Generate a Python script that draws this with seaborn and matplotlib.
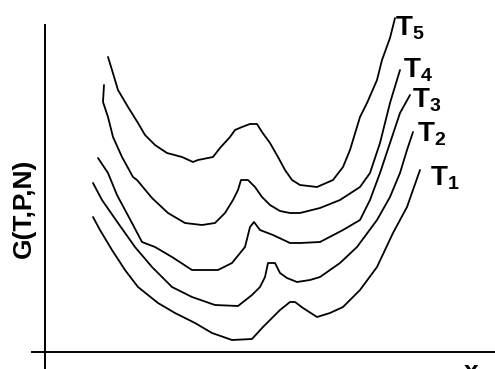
import numpy as np
import pandas as pd
import matplotlib
matplotlib.use("Agg")
import matplotlib.pyplot as plt
import seaborn as sns

sns.set_style("white")
plt.rcParams['font.family'] = ['Liberation Sans', 'DejaVu Sans']
plt.rcParams['mathtext.fontset'] = 'custom'
plt.rcParams['mathtext.rm'] = 'Liberation Sans:bold'
plt.rcParams['mathtext.bf'] = 'Liberation Sans:bold'
plt.rcParams['mathtext.it'] = 'Liberation Sans:bold'

# composition (x) and Gibbs energy G for five temperatures (arbitrary units)
x_T5 = [63, 67, 73, 83, 93, 100, 110, 122, 137, 148, 153, 168, 175, 185, 190, 197, 205, 212,
        217, 225, 233, 240, 247, 255, 272, 288, 298, 305, 315, 322, 332, 337, 345, 350]
G_T5 = [295, 282, 262, 245, 229, 217, 207, 199, 195, 190, 192, 195, 204, 215, 222, 225, 228, 228,
        220, 209, 195, 182, 172, 167, 165, 172, 185, 202, 235, 249, 272, 292, 314, 334]

x_T4 = [59, 58, 63, 68, 77, 88, 92, 107, 123, 140, 157, 170, 180, 188, 193, 196, 203, 210,
        217, 225, 235, 245, 255, 275, 295, 315, 325, 335, 345, 355]
G_T4 = [267, 250, 235, 215, 195, 175, 172, 154, 139, 129, 127, 129, 139, 152, 162, 172, 172, 165,
        155, 147, 141, 139, 139, 144, 152, 165, 179, 209, 249, 282]

x_T3 = [53, 63, 72, 87, 97, 110, 127, 147, 173, 187, 200, 203, 205, 209, 215, 228, 245,
        255, 275, 298, 315, 325, 335, 345, 355, 365]
G_T3 = [194, 179, 157, 129, 110, 105, 95, 82, 82, 89, 105, 117, 125, 130, 122, 117, 109,
        109, 110, 122, 132, 152, 179, 209, 239, 257]

x_T2 = [48, 57, 73, 90, 107, 127, 147, 170, 193, 207, 215, 220, 223, 230, 235, 242, 252,
        265, 275, 295, 312, 332, 345, 355, 362, 368]
G_T2 = [169, 152, 129, 105, 85, 65, 55, 47, 46, 57, 65, 75, 89, 89, 79, 74, 70,
        72, 75, 89, 105, 132, 155, 179, 202, 220]

x_T1 = [48, 55, 67, 80, 93, 113, 130, 150, 167, 187, 207, 218, 235, 245, 250, 258, 272,
        285, 298, 315, 332, 348, 362, 375]
G_T1 = [135, 122, 102, 82, 65, 49, 39, 29, 19, 12, 13, 25, 42, 50, 50, 44, 35,
        39, 45, 62, 85, 119, 145, 182]

labels = ["T$_\\mathbf{1}$", "T$_\\mathbf{2}$", "T$_\\mathbf{3}$", "T$_\\mathbf{4}$", "T$_\\mathbf{5}$"]
label_x = [385, 372, 367, 358, 350]
label_G = [167, 210, 245, 274, 317]

frames = []
for name, xs, gs in [("T1", x_T1, G_T1), ("T2", x_T2, G_T2), ("T3", x_T3, G_T3),
                     ("T4", x_T4, G_T4), ("T5", x_T5, G_T5)]:
    frames.append(pd.DataFrame({"x": xs, "G": gs, "T": name}))
df = pd.concat(frames, ignore_index=True)

fig = plt.figure(figsize=(4.95, 3.69), dpi=100)
ax = fig.add_axes([0, 0, 1, 1])
ax.set_xlim(-45, 450)
ax.set_ylim(-17, 352)

sns.lineplot(data=df, x="x", y="G", hue="T", palette=["black"] * 5,
             sort=False, estimator=None, legend=False, linewidth=1.3, ax=ax)

for lab, lx, lg in zip(labels, label_x, label_G):
    ax.text(lx, lg, lab, fontsize=20, fontweight="bold", ha="left", va="baseline",
            color="black")

# axes lines crossing at the origin
ax.spines['left'].set_position(('data', 0))
ax.spines['bottom'].set_position(('data', 0))
ax.spines['left'].set_bounds(-17, 327)
ax.spines['bottom'].set_bounds(-13, 450)
for s in ['left', 'bottom']:
    ax.spines[s].set_color('black')
    ax.spines[s].set_linewidth(1.4)
    ax.spines[s].set_visible(True)
ax.spines['top'].set_visible(False)
ax.spines['right'].set_visible(False)
ax.set_xticks([])
ax.set_yticks([])
ax.set_xlabel("")
ax.set_ylabel("")

ax.text(-21, 144, "G(T,P,N)", rotation=90, fontsize=19, fontweight="bold",
        ha="center", va="center", color="black")
ax.text(426, -8, "x", fontsize=19, fontweight="bold", ha="center", va="top",
        color="black")

fig.savefig("out.png", dpi=100, facecolor="white")
